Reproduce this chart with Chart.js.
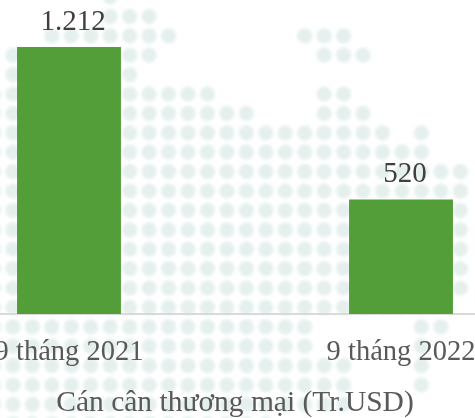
<!DOCTYPE html>
<html>
<head>
<meta charset="utf-8">
<title>Cán cân thương mại</title>
<script src="https://cdn.jsdelivr.net/npm/chart.js@4"></script>
<style>
  html, body { margin: 0; padding: 0; background: #fff; overflow: hidden; }
  #wrap { position: relative; width: 475px; height: 418px; overflow: hidden; }
  /* the plot is wider than the window, both ends get cropped */
  #myChart { position: absolute; left: -97px; top: 0; }
</style>
</head>
<body>
<div id="wrap"><canvas id="myChart" width="664" height="418"></canvas></div>
<script>
const categories = ['9 tháng 2021', '9 tháng 2022'];
const values = [1212, 520];
const valueLabels = ['1.212', '520'];
const axisTitle = 'Cán cân thương mại (Tr.USD)';

// faded world map behind the chart, one string per row of dots
const dotRows = [
  '......#..................',
  '......###................',
  '...#######......###......',
  '.#.....##........###.....',
  '.#.....#.................',
  '##.....#####.....##......',
  '##.....#######...###.....',
  '#####################.#..',
  '#######################..',
  '#########################',
  '#########################',
  '#########################',
  '#########################',
  '#########################',
  '#########################',
  '#########################',
  '#######################..',
  '#################.....##.',
  '#################.....#..',
  '###################...#..',
  '###################...#..',
  '###################......',
  '###############..........'
];

const dotMap = {
  id: 'dotMap',
  beforeDraw(chart) {
    const ctx = chart.ctx;
    ctx.save();
    ctx.fillStyle = '#e5f0ee';
    ctx.filter = 'blur(1.5px)';
    dotRows.forEach((row, j) => {
      [...row].forEach((c, i) => {
        if (c !== '#') return;
        ctx.beginPath();
        ctx.arc(90.5 + i * 19.45, -3 + j * 19.4, 7.6, 0, Math.PI * 2);
        ctx.fill();
      });
    });
    ctx.restore();
  }
};

const barLabels = {
  id: 'barLabels',
  afterDatasetsDraw(chart) {
    const ctx = chart.ctx;
    ctx.save();
    ctx.font = '29px "Liberation Serif"';
    ctx.fillStyle = '#404040';
    ctx.textAlign = 'center';
    ctx.textBaseline = 'alphabetic';
    chart.getDatasetMeta(0).data.forEach((bar, i) => {
      ctx.fillText(valueLabels[i], bar.x + 4, bar.y - 17);
    });
    ctx.restore();
  }
};

new Chart(document.getElementById('myChart').getContext('2d'), {
  type: 'bar',
  data: {
    labels: categories,
    datasets: [{
      data: values,
      backgroundColor: '#549e39',
      categoryPercentage: 1,
      barPercentage: 0.313
    }]
  },
  options: {
    responsive: false,
    animation: false,
    layout: { padding: 0 },
    plugins: { legend: { display: false }, tooltip: { enabled: false } },
    scales: {
      y: { display: false, min: 0, max: 1425 },
      x: {
        afterFit(scale) { scale.height = 104; },
        grid: { display: false },
        border: { color: '#d9d9d9', width: 2 },
        ticks: {
          color: '#595959',
          font: { family: 'Liberation Serif', size: 28.5 },
          maxRotation: 0,
          autoSkip: false,
          padding: 13
        },
        title: {
          display: true,
          text: axisTitle,
          color: '#595959',
          font: { family: 'Liberation Serif', size: 29.5 },
          padding: { top: 14, bottom: -3 }
        }
      }
    }
  },
  plugins: [dotMap, barLabels]
});
</script>
</body>
</html>
